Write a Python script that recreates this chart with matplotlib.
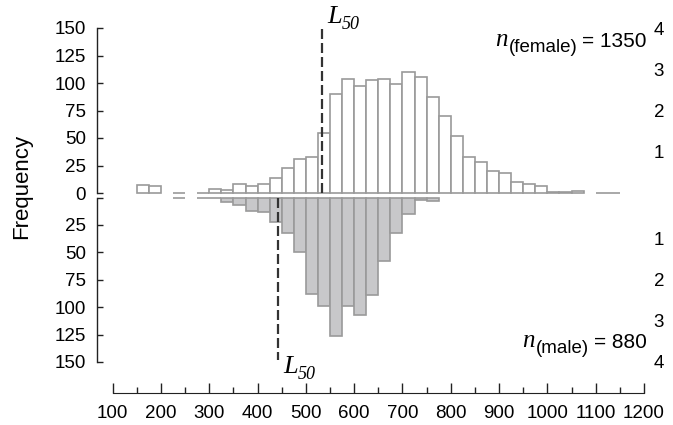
import numpy as np
import matplotlib
matplotlib.use("Agg")
import matplotlib.pyplot as plt
from matplotlib.ticker import MultipleLocator

plt.rcParams["font.family"] = ["Liberation Sans", "DejaVu Sans"]

# 25 mm length classes (left edges) and counts
bin_left = np.arange(150, 1150, 25)
bin_width = 25
nan = np.nan
female = [7, 6, nan, 0, nan, 0, 4, 3, 8, 6, 8, 14, 23, 31, 33, 55, 90, 104, 97, 103,
          104, 99, 110, 105, 87, 70, 52, 33, 28, 20, 18, 10, 8, 6, 1, 1, 2, nan, 0, 0]
male = [nan, nan, nan, 0, nan, 0, 0, 4, 7, 12, 13, 22, 32, 50, 88, 99, 126, 99, 107, 89,
        58, 32, 15, 2, 3, nan, nan, nan, nan, nan, nan, nan, nan, nan, nan, nan, nan, nan, nan, nan]
l50_female = 533
l50_male = 442
n_female = 1350
n_male = 880

freq_ticks = [0, 25, 50, 75, 100, 125, 150]
right_ticks = [1, 2, 3, 4]
x_major = list(range(100, 1201, 100))

W, H = 673, 425
TICK_FS = 13.5


def fx(px):
    return px / W


def fy(py):
    return 1 - py / H


fig = plt.figure(figsize=(W / 100, H / 100), dpi=100)
left, right = fx(97), fx(644)
xlim = (67.5, 1200)

ax_top = fig.add_axes([left, fy(193), right - left, (193 - 28) / H])
ax_bot = fig.add_axes([left, fy(362), right - left, (362 - 197.5) / H])
ax_x = fig.add_axes([left, fy(393), right - left, 0.001])

edge = "#9a9a9a"
dash = (0, (4.5, 1.8))

fem = np.array(female, dtype=float)
mal = np.array(male, dtype=float)
mf = ~np.isnan(fem)
mm = ~np.isnan(mal)

ax_top.bar(bin_left[mf], fem[mf], width=bin_width, align="edge",
           facecolor="white", edgecolor=edge, linewidth=1.2, clip_on=False, zorder=2)
ax_bot.bar(bin_left[mm], mal[mm], width=bin_width, align="edge",
           facecolor="#c8c8ca", edgecolor=edge, linewidth=1.2, clip_on=False, zorder=2)

ax_top.plot([l50_female, l50_female], [0, 150], color="#333333", lw=1.6,
            linestyle=dash, clip_on=False, zorder=3)
ax_bot.plot([l50_male, l50_male], [0, 148], color="#333333", lw=1.6,
            linestyle=dash, clip_on=False, zorder=3)

for ax, inverted in [(ax_top, False), (ax_bot, True)]:
    ax.set_xlim(*xlim)
    ax.set_ylim((150, 0) if inverted else (0, 150))
    for s in ["top", "right", "bottom"]:
        ax.spines[s].set_visible(False)
    ax.spines["left"].set_linewidth(1.0)
    ax.spines["left"].set_color("#222222")
    labels = [str(v) for v in freq_ticks]
    if inverted:
        labels[0] = ""
    ax.set_yticks(freq_ticks)
    ax.set_yticklabels(labels)
    ax.tick_params(axis="y", direction="in", length=4, width=1.0, pad=8,
                   labelsize=TICK_FS, color="#222222")
    ax.set_xticks([])
    ax.patch.set_alpha(0)

    tw = ax.twinx()
    tw.set_ylim((4, 0) if inverted else (0, 4))
    tw.set_yticks(right_ticks)
    tw.tick_params(axis="y", length=0, pad=7, labelsize=TICK_FS)
    for s in tw.spines.values():
        s.set_visible(False)
    tw.set_xticks([])

ax_x.set_xlim(*xlim)
for s in ["top", "right", "left"]:
    ax_x.spines[s].set_visible(False)
ax_x.spines["bottom"].set_bounds(100, 1200)
ax_x.spines["bottom"].set_color("#222222")
ax_x.set_yticks([])
ax_x.set_xticks(x_major)
ax_x.xaxis.set_minor_locator(MultipleLocator(50))
ax_x.tick_params(axis="x", which="major", direction="in", length=7, width=1.0,
                 pad=9, labelsize=TICK_FS, color="#222222")
ax_x.tick_params(axis="x", which="minor", direction="in", length=4, width=1.0,
                 color="#222222")
ax_x.patch.set_alpha(0)

fig.text(fx(22), fy(186), "Frequency", rotation=90, fontsize=16,
         ha="center", va="center")

# L50 labels (italic serif)
serif = ["Liberation Serif", "DejaVu Serif"]
for lx, lb in [(327, 23), (283, 373)]:
    t = fig.text(fx(lx), fy(lb), "L", fontsize=19, style="italic", family=serif,
                 ha="left", va="baseline")
    fig.canvas.draw()
    bb = t.get_window_extent()
    fig.text(bb.x1 / W, fy(lb + 6), "50", fontsize=13, style="italic",
             family=serif, ha="left", va="baseline")

# sample sizes
renderer = fig.canvas.get_renderer()
for sex, n, base in [("female", n_female, 47), ("male", n_male, 348)]:
    t1 = fig.text(fx(647), fy(base), f"= {n}", fontsize=15, ha="right", va="baseline")
    bb1 = t1.get_window_extent(renderer)
    t2 = fig.text(bb1.x0 / W - fx(5), fy(base + 5), f"({sex})", fontsize=13.5,
                  ha="right", va="baseline")
    bb2 = t2.get_window_extent(renderer)
    fig.text(bb2.x0 / W - fx(1), fy(base - 1), "n", fontsize=18, style="italic",
             family=serif, ha="right", va="baseline")

fig.savefig("out.png", dpi=100)
